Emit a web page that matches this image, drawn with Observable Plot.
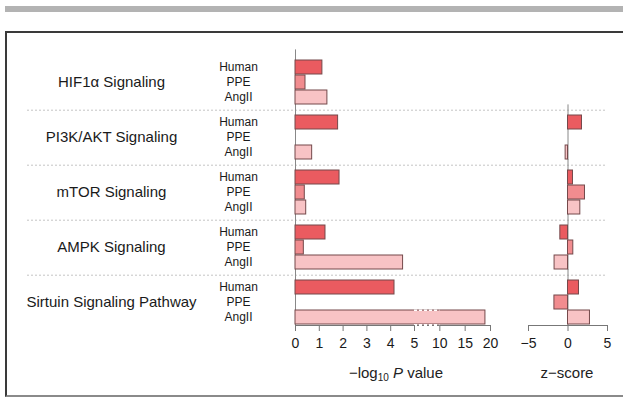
<!DOCTYPE html>
<html>
<head>
<meta charset="utf-8">
<script src="https://cdn.jsdelivr.net/npm/d3@7"></script>
<script src="https://cdn.jsdelivr.net/npm/@observablehq/plot@0.6"></script>
<style>
  body { margin: 0; background: #fff; font-family: "Liberation Sans", Arial, sans-serif; }
  #wrap { position: relative; width: 623px; height: 397px; overflow: hidden; background: #fff; }
  #wrap svg { position: absolute; left: 0; top: 0; }
  .topbar { position: absolute; left: 5px; top: 6px; width: 620px; height: 6px; background: #b3b3b3; }
  .box { position: absolute; left: 5px; top: 31px; width: 640px; height: 362px; border: 2px solid #3a3a3a; border-bottom-color: #8a8a8a; }
  .atitle { position: absolute; top: 365px; font-size: 15px; line-height: 15px; color: #222; transform: translateX(-50%); white-space: nowrap; }
  .atitle sub { font-size: 10px; line-height: 0; vertical-align: -3px; }
</style>
</head>
<body>
<div id="wrap">
  <div class="topbar"></div>
  <div class="box"></div>
</div>
<script>
// ---- data ----
const pathways = ["HIF1α Signaling", "PI3K/AKT Signaling", "mTOR Signaling", "AMPK Signaling", "Sirtuin Signaling Pathway"];
const samples = ["Human", "PPE", "AngII"];
// -log10 P value per pathway (order of pathways)
const humanP = [1.13, 1.79, 1.85, 1.26, 4.16];
const ppeP   = [0.42, null, 0.39, 0.35, null];
const angP   = [1.34, 0.70, 0.45, 4.52, 19.0];
// z-score per pathway
const humanZ = [null, 1.77, 0.63, -0.97, 1.39];
const ppeZ   = [null, null, 2.15, 0.67, -1.72];
const angZ   = [null, -0.30, 1.56, -1.70, 2.78];
// axis ticks / breaks
const pTicks = [0, 1, 2, 3, 4, 5, 10, 15, 20];
const pBreaks = [0, 5, 20];
const pBreakGap = [5, 10];
const zTicks = [-5, 0, 5];
const zDomain = [-5, 5];

const pSeries = [humanP, ppeP, angP];
const zSeries = [humanZ, ppeZ, angZ];
const rows = pathways.flatMap((pw, i) => samples.map((s, j) => ({
  pathway: pw, sample: s, p: pSeries[j][i], z: zSeries[j][i]
})));

const font = "Liberation Sans, Arial, sans-serif";
const colors = ["#ea5b60", "#f18c8f", "#f8c3c5"];
const barStroke = "#74494b";

const common = {
  width: 623, height: 397, marginTop: 56, marginBottom: 71,
  style: {background: "transparent", fontFamily: font, overflow: "visible"},
  fy: {domain: pathways, paddingInner: 0.15, paddingOuter: 0, axis: null, label: null},
  y: {domain: samples, paddingInner: 0.08, paddingOuter: 0.04, axis: null, label: null},
  color: {domain: samples, range: colors}
};

const wrap = document.getElementById("wrap");

// base layer: labels and separators
const base = Plot.plot({
  ...common,
  marginLeft: 27, marginRight: 16,
  marks: [
    Plot.ruleY(pathways.slice(1), {fy: d => d, y: () => samples[0], dy: -12.3, stroke: "#c4c4c4", strokeDasharray: "2,2"}),
    Plot.text(pathways, {fy: d => d, text: d => d, frameAnchor: "left", dx: 84, textAnchor: "middle", fontSize: 15, fill: "#1a1a1a"}),
    Plot.text(rows, {fy: "pathway", y: "sample", text: "sample", frameAnchor: "left", dx: 211, textAnchor: "middle", fontSize: 12, fill: "#1a1a1a"})
  ]
});
wrap.appendChild(base);

// P-value panel
const pPlot = Plot.plot({
  ...common,
  marginLeft: 295, marginRight: 133,
  x: {type: "linear", domain: pBreaks, range: [295, 414, 490], label: null},
  marks: [
    Plot.ruleX([0], {insetTop: -8.6, stroke: "#888"}),
    Plot.barX(rows.filter(d => d.p != null), {fy: "pathway", y: "sample", x: "p", fill: "sample", stroke: barStroke, strokeWidth: 1}),
    Plot.ruleY(rows.filter(d => d.p != null && d.p > pBreakGap[1]), {fy: "pathway", y: "sample", x1: pBreakGap[0], x2: pBreakGap[1], dy: -7.25, stroke: "white", strokeWidth: 1.5, strokeDasharray: "3,2"}),
    Plot.frame({anchor: "bottom", facet: "super", stroke: "#777"}),
    Plot.ruleY(rows.filter(d => d.p != null && d.p > pBreakGap[1]), {fy: "pathway", y: "sample", x1: pBreakGap[0], x2: pBreakGap[1], dy: 8, stroke: "white", strokeWidth: 3, strokeDasharray: "3,2"}),
    Plot.axisX({ticks: pTicks, tickSize: 6, tickPadding: 7, fontSize: 14, label: null, stroke: "#777", fill: "#1a1a1a", tickFormat: d => String(d)})
  ]
});
wrap.appendChild(pPlot);

// z-score panel
const zPlot = Plot.plot({
  ...common,
  marginLeft: 528, marginRight: 16,
  x: {domain: zDomain, label: null},
  marks: [
    Plot.ruleX([0], {insetTop: -8.6, stroke: "#888"}),
    Plot.barX(rows.filter(d => d.z != null), {fy: "pathway", y: "sample", x: "z", fill: "sample", stroke: barStroke, strokeWidth: 1}),
    Plot.frame({anchor: "bottom", facet: "super", stroke: "#777"}),
    Plot.axisX({ticks: zTicks, tickSize: 6, tickPadding: 7, fontSize: 14, label: null, stroke: "#777", fill: "#1a1a1a"})
  ]
});
wrap.appendChild(zPlot);

// axis titles
const t1 = document.createElement("div");
t1.className = "atitle"; t1.style.left = "396px";
t1.innerHTML = "\u2212log<sub>10</sub> <i>P</i> value";
wrap.appendChild(t1);
const t2 = document.createElement("div");
t2.className = "atitle"; t2.style.left = "567px";
t2.textContent = "z\u2212score";
wrap.appendChild(t2);
</script>
</body>
</html>
